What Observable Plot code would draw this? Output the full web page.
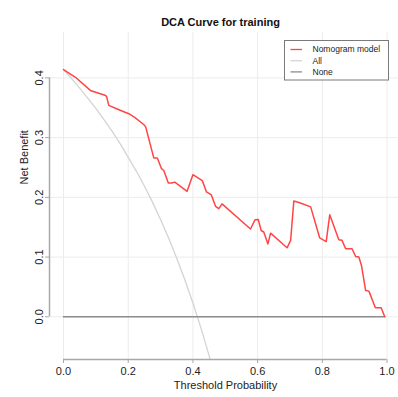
<!DOCTYPE html>
<html>
<head>
<meta charset="utf-8">
<script src="https://cdn.jsdelivr.net/npm/d3@7"></script>
<script src="https://cdn.jsdelivr.net/npm/@observablehq/plot@0.6"></script>
<style>
  html, body { margin: 0; padding: 0; background: #fff; }
  svg { display: block; }
</style>
</head>
<body>
<div id="chart"></div>
<script>
const title = "DCA Curve for training";
const xLabel = "Threshold Probability";
const yLabel = "Net Benefit";
const seriesNames = ["Nomogram model", "All", "None"];
const seriesColors = ["#ff4545", "#d4d4d4", "#8c8c8c"];

const xTicks = [0, 0.2, 0.4, 0.6, 0.8, 1.0];
const yTicks = [0, 0.1, 0.2, 0.3, 0.4];

// Nomogram model
const modelT = [0, 0.037, 0.083, 0.128, 0.133, 0.14, 0.166, 0.192, 0.202, 0.222, 0.248, 0.254, 0.279, 0.29, 0.303, 0.31, 0.324, 0.334, 0.344, 0.382, 0.40, 0.429, 0.442, 0.457, 0.47, 0.48, 0.49, 0.578, 0.592, 0.602, 0.611, 0.619, 0.632, 0.64, 0.691, 0.702, 0.712, 0.73, 0.764, 0.792, 0.812, 0.823, 0.851, 0.861, 0.872, 0.892, 0.903, 0.913, 0.921, 0.934, 0.944, 0.964, 0.982, 0.993];
const modelNB = [0.414, 0.401, 0.379, 0.371, 0.369, 0.354, 0.348, 0.342, 0.340, 0.333, 0.322, 0.318, 0.266, 0.266, 0.248, 0.245, 0.224, 0.224, 0.2255, 0.21, 0.238, 0.228, 0.209, 0.204, 0.185, 0.181, 0.189, 0.147, 0.1625, 0.163, 0.1445, 0.142, 0.122, 0.140, 0.1155, 0.128, 0.194, 0.191, 0.184, 0.132, 0.126, 0.171, 0.129, 0.128, 0.114, 0.114, 0.101, 0.100, 0.086, 0.044, 0.043, 0.015, 0.015, 0.0];

// Treat all
const allT = [0, 0.025, 0.05, 0.075, 0.1, 0.125, 0.15, 0.175, 0.2, 0.225, 0.25, 0.275, 0.3, 0.325, 0.35, 0.375, 0.4, 0.425, 0.45, 0.475];
const allNB = [0.414, 0.399, 0.383, 0.366, 0.349, 0.330, 0.311, 0.290, 0.267, 0.244, 0.219, 0.192, 0.163, 0.132, 0.098, 0.062, 0.023, -0.019, -0.065, -0.116];

// Treat none
const noneT = [0, 0.993];
const noneNB = [0, 0];

const xDomain = [-0.0433, 1.0355];
const yDomain = [-0.0715, 0.476];

const model = modelT.map((t, i) => ({t, nb: modelNB[i]}));
const all = allT.map((t, i) => ({t, nb: allNB[i]}));
const none = noneT.map((t, i) => ({t, nb: noneNB[i]}));

const axisColor = "#a8a8a8";
const textColor = "#222";
const font = "'Liberation Sans', Arial, sans-serif";

const chart = Plot.plot({
  width: 398,
  height: 397,
  marginLeft: 49,
  marginRight: 0,
  marginTop: 32,
  marginBottom: 38,
  style: {fontFamily: font, fontSize: "11px", background: "#fff", color: textColor},
  x: {domain: xDomain, axis: null},
  y: {domain: yDomain, axis: null},
  marks: [
    // grid
    Plot.ruleX(xTicks, {stroke: "#ececec", strokeWidth: 1}),
    Plot.ruleY(yTicks, {stroke: "#ececec", strokeWidth: 1}),
    // lines
    Plot.line(all, {x: "t", y: "nb", stroke: seriesColors[1], strokeWidth: 1.3, clip: true}),
    Plot.line(none, {x: "t", y: "nb", stroke: seriesColors[2], strokeWidth: 1.5}),
    Plot.line(model, {x: "t", y: "nb", stroke: seriesColors[0], strokeWidth: 1.5}),
    // axis lines (R style: span ticks only)
    Plot.ruleY([yDomain[0]], {x1: d3.min(xTicks), x2: d3.max(xTicks), stroke: axisColor, strokeWidth: 1.5}),
    Plot.ruleX([xDomain[0]], {y1: d3.min(yTicks), y2: d3.max(yTicks), stroke: axisColor, strokeWidth: 1.5}),
    Plot.axisX({ticks: xTicks, tickSize: 4, tickPadding: 4, tickFormat: d3.format(".1f"), anchor: "bottom", stroke: axisColor, fill: textColor, label: null, fontSize: 11}),
    Plot.axisY({ticks: yTicks, tickSize: 4, tickFormat: () => "", anchor: "left", stroke: axisColor, label: null}),
    Plot.text(yTicks, {x: xDomain[0], y: d => d, text: d => d3.format(".1f")(d), rotate: -90, dx: -10, fill: textColor, fontSize: 11, textAnchor: "middle"}),
    // titles
    Plot.text([title], {frameAnchor: "top", dx: -3.5, dy: -14, fontWeight: "bold", fontSize: 11, fill: "#111"}),
    Plot.text([xLabel], {frameAnchor: "bottom", dx: 1.5, dy: 29, fontSize: 11, fill: textColor}),
    Plot.text([yLabel], {frameAnchor: "left", dx: -25, dy: -11.5, rotate: -90, fontSize: 11, fill: textColor})
  ]
});

// Legend (R-style box, top right)
const svg = d3.select(chart);
const lg = svg.append("g").attr("font-family", font).attr("font-size", 8.5).attr("text-anchor", "start");
lg.append("rect").attr("x", 284.5).attr("y", 40.5).attr("width", 104).attr("height", 39.5)
  .attr("fill", "#fff").attr("stroke", "#7a7a7a").attr("stroke-width", 1);
seriesNames.forEach((name, i) => {
  const y = 49.5 + i * 11.2;
  lg.append("line").attr("x1", 290.5).attr("x2", 302).attr("y1", y).attr("y2", y)
    .attr("stroke", seriesColors[i]).attr("stroke-width", 1.3);
  lg.append("text").attr("x", 312.5).attr("y", y).attr("dy", "0.35em")
    .attr("text-anchor", "start").attr("fill", textColor).text(name);
});

document.getElementById("chart").appendChild(chart);
</script>
</body>
</html>
